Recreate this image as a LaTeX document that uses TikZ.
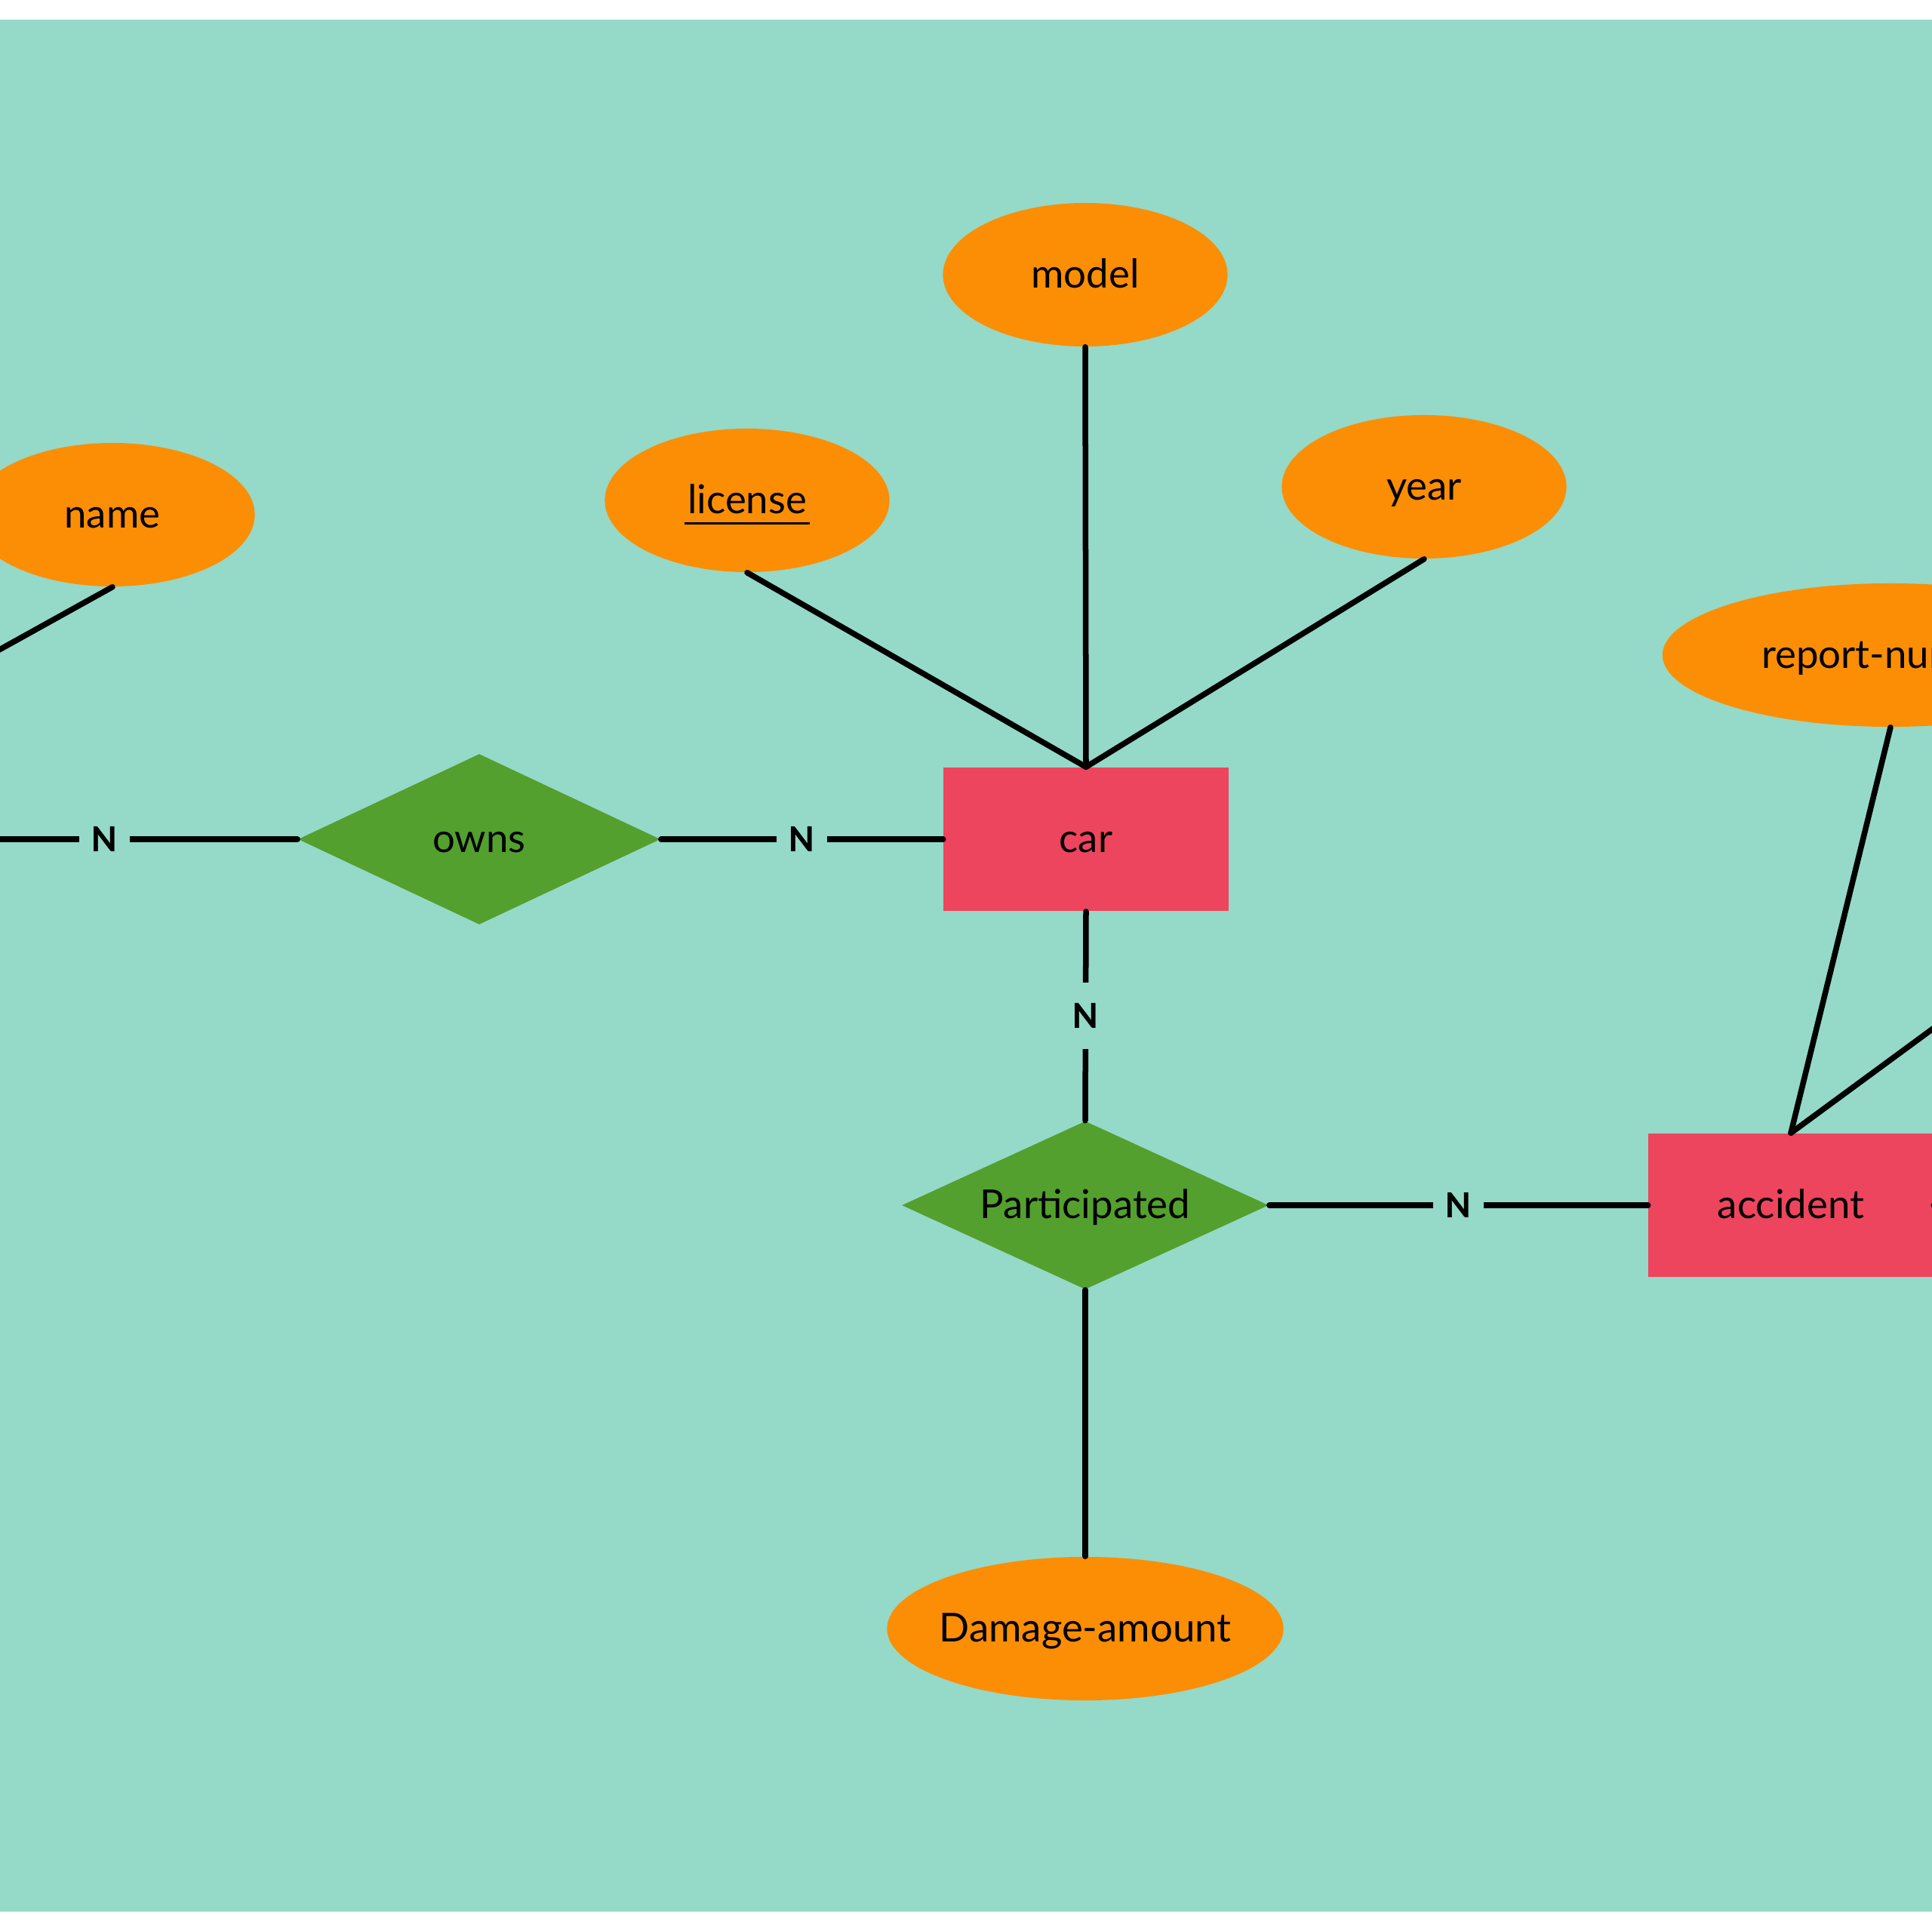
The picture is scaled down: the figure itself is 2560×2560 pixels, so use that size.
\documentclass[tikz,border=0pt]{standalone}
\usepackage{fontspec}
\setmainfont{Lato}
\newfontfamily\cardfont{Carlito}
\usetikzlibrary{shapes.geometric}
\definecolor{bgc}{RGB}{149,217,201}
\definecolor{attc}{RGB}{251,142,4}
\definecolor{entc}{RGB}{237,69,93}
\definecolor{relc}{RGB}{83,160,46}
% key attribute: thick rule under the word
\newcommand{\keyattr}[1]{\setbox0\hbox{#1}\rlap{\hspace{-0.04cm}\rule[-0.14cm]{\dimexpr\wd0+0.08cm\relax}{0.03cm}}\box0}

\begin{document}
\begin{tikzpicture}[x=0.01cm, y=-0.01cm, line cap=round,
    font=\fontsize{15pt}{18pt}\selectfont,
    entity/.style={rectangle, fill=entc, inner sep=0, minimum width=3.77cm, minimum height=1.9cm,
      text height=1.1em, text depth=0.08em},
    attrib/.style={ellipse, fill=attc, inner xsep=-0.5cm, inner ysep=0, minimum width=3.77cm, minimum height=1.9cm,
      text height=1.1em, text depth=0.08em},
    relship/.style={diamond, fill=relc, aspect=2.15, inner sep=0,
      text height=1.1em, text depth=0.08em},
    link/.style={draw=black, line width=0.075cm},
    card/.style={fill=bgc, inner sep=0, minimum width=0.67cm, minimum height=0.88cm,
      font=\cardfont\bfseries\fontsize{14.5pt}{16pt}\selectfont}]

  % page: white strips top and bottom
  \useasboundingbox (0,0) rectangle (2560,2560);
  \clip (0,0) rectangle (2560,2560);
  \fill[white] (0,0) rectangle (2560,2560);
  \fill[bgc] (0,26) rectangle (2560,2533);

  % entities
  \node[entity] (car) at (1439,1112) {car};
  \node[entity] (accident) at (2373,1597) {accident};

  % relationships
  \node[relship, minimum width=4.8cm, minimum height=2.26cm] (owns) at (635,1112) {owns};
  \node[relship, minimum width=4.86cm, minimum height=2.23cm] (particip) at (1438,1597) {Participated};

  % attributes
  \node[attrib] (model) at (1438,364) {model};
  \node[attrib] (license) at (990,663) {\keyattr{license}};
  \node[attrib] (year) at (1887,645) {year};
  \node[attrib] (name) at (149,682) {name};
  \node[attrib, minimum width=6.04cm] (repnum) at (2505,868) {report-number};
  \node[attrib, minimum width=5.25cm] (damage) at (1438,2158) {Damage-amount};

  % ends that run off the page
  \coordinate (drvtop) at (-282,1017);
  \coordinate (drvright) at (-117,1112);
  \coordinate (accattr) at (2700,1261);
  \coordinate (accright) at (2800,1597);

  % attribute links
  \draw[link] (license.south) -- (car.north);
  \draw[link] (model.south) -- (car.north);
  \draw[link] (year.south) -- (car.north);
  \draw[link] (name.south) -- (drvtop);
  \draw[link] (repnum.south) -- (accident.north);
  \draw[link] (accattr) -- (accident.north);
  \draw[link] (particip.south) -- (damage.north);

  % relationship links with cardinality
  \draw[link] (drvright) -- (owns.west) node[card, midway] {N};
  \draw[link] (owns.east) -- (car.west) node[card, midway] {N};
  \draw[link] (car.south) -- (particip.north) node[card, midway] {N};
  \draw[link] (particip.east) -- (accident.west) node[card, midway] {N};
  \draw[link] (accident.east) -- (accright);
\end{tikzpicture}
\end{document}
